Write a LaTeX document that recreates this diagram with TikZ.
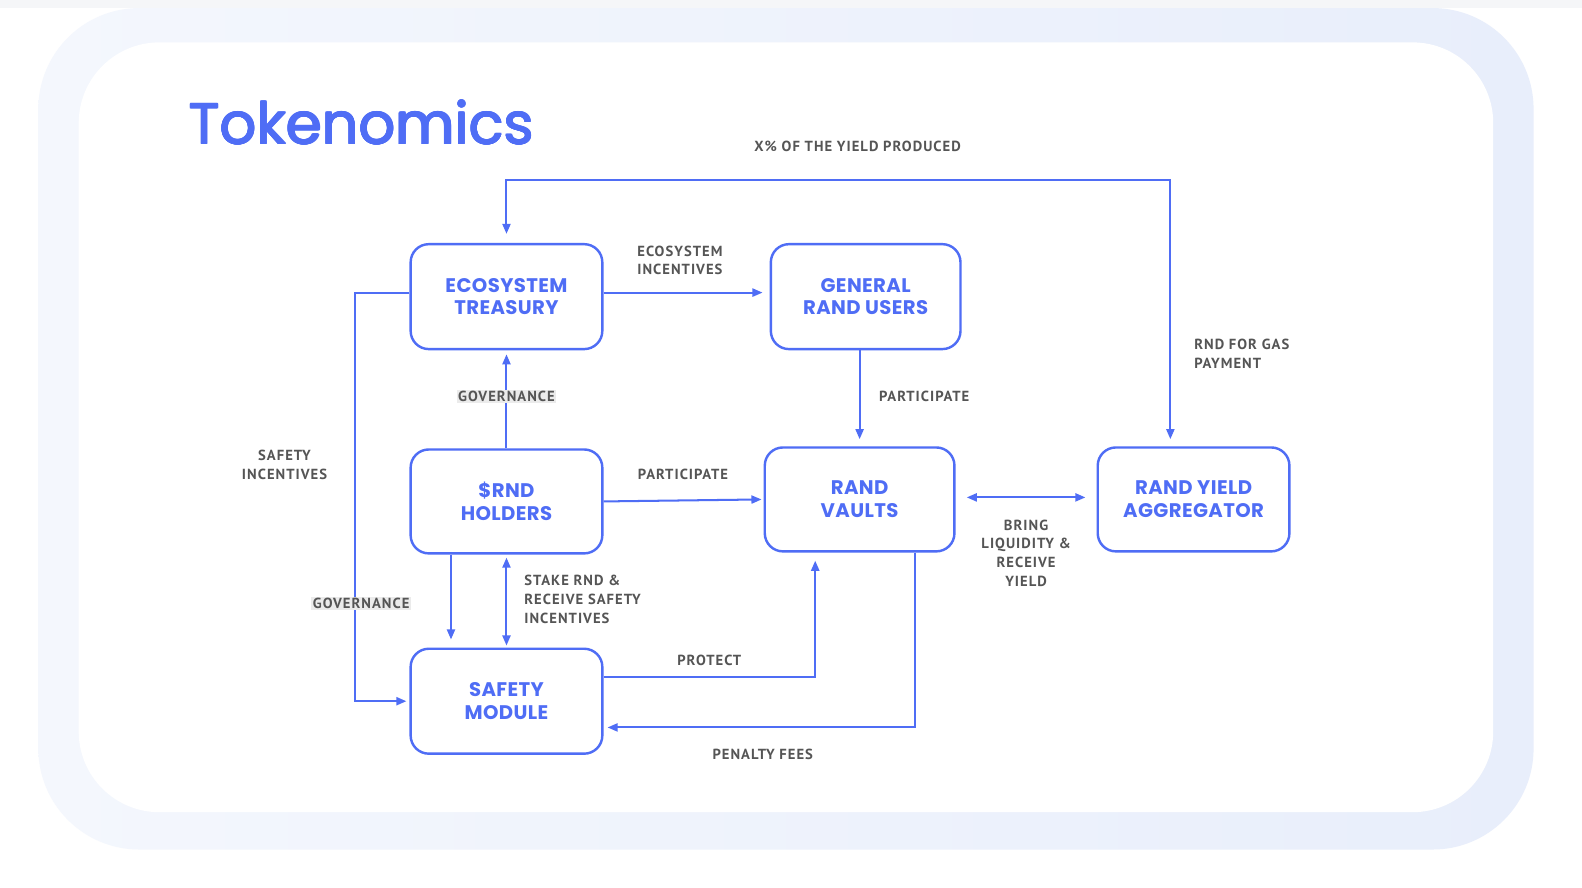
\documentclass[tikz,border=0pt]{standalone}
\usepackage{fontspec}
\setmainfont{PT Sans}
\newfontfamily\titlefont{Poppins}
\newfontfamily\boxfont{Poppins}[LetterSpace=2]
\newfontfamily\lblfont{PT Sans}[LetterSpace=7]
\usetikzlibrary{arrows.meta,calc}
\definecolor{rblue}{HTML}{4F6DF5}
\definecolor{lgray}{HTML}{555555}
\definecolor{bandL}{HTML}{F4F7FD}
\definecolor{bandR}{HTML}{E8EEFB}
\definecolor{topgray}{HTML}{F5F6F8}
\definecolor{govbg}{HTML}{EBEBEB}
\tikzset{
 box/.style={draw=rblue, line width=2.4pt, rounded corners=18pt, minimum width=190pt, minimum height=104pt, align=center, text=rblue, font=\boxfont\bfseries\fontsize{19.5}{22.5}\selectfont, inner sep=0pt},
 lbl/.style={text=lgray, font=\lblfont\bfseries\fontsize{14.5}{18.5}\selectfont, inner sep=1.5pt},
 glbl/.style={lbl, fill=govbg},
 ttl/.style={anchor=base west, text=rblue, font=\titlefont\fontsize{57}{60}\selectfont, inner sep=0pt},
 conn/.style={draw=rblue, line width=2pt, -{Triangle[length=10pt,width=8pt]}},
 conn2/.style={draw=rblue, line width=2pt, {Triangle[length=10pt,width=8pt]}-{Triangle[length=10pt,width=8pt]}},
}
\begin{document}
\begin{tikzpicture}[x=1pt,y=-1pt]
\useasboundingbox (0,0) rectangle (1568,880);
\fill[white] (0,0) rectangle (1568,880);
\fill[topgray] (0,0) rectangle (1568,8);
\shade[left color=bandL, right color=bandR, rounded corners=100pt] (38,8) rectangle (1520,842);
\fill[white, rounded corners=80pt] (78,42) rectangle (1480,805);

\foreach \dx/\dy in {-0.7/0,0.7/0,0/-0.7,0/0.7,-0.5/-0.5,0.5/0.5,-0.5/0.5,0.5/-0.5}
  \node[ttl] at (187+\dx,143+\dy) {Tokenomics};
\node[ttl] (title) at (187,143) {Tokenomics};

\node[box] (ET) at (502,294) {ECOSYSTEM\\TREASURY};
\node[box, minimum width=188pt] (GRU) at (858,294) {GENERAL\\RAND USERS};
\node[box, minimum height=103pt] (HOLD) at (502,497) {\$RND\\HOLDERS};
\node[box, minimum width=188pt, minimum height=103pt] (RV) at (852,495) {RAND\\VAULTS};
\node[box, minimum height=103pt] (RYA) at (1183,495) {RAND YIELD\\AGGREGATOR};
\node[box] (SM) at (502,695) {SAFETY\\MODULE};

\coordinate (tl) at (502,178);
\coordinate (tr) at (1160,178);
\draw[conn2, shorten <=9pt, shorten >=7pt] (ET.north) -- (tl) -- (tr) -- (tr |- RYA.north);
\node[lbl] (lx) at (850,145) {X\% OF THE YIELD PRODUCED};
\node[lbl, anchor=west, align=left] (lgas) at (1182,351) {RND FOR GAS\\PAYMENT};

\draw[conn, shorten >=7pt] ([yshift=4pt]ET.east) -- ([yshift=4pt]GRU.west);
\node[lbl, anchor=west, align=left] (leco) at (630,258) {ECOSYSTEM\\INCENTIVES};

\draw[conn, shorten >=4pt] (HOLD.north) -- (ET.south);
\node[glbl] (lgov1) at (502,393) {GOVERNANCE};

\draw[conn, shorten >=3pt] ([yshift=4pt]ET.west) -- ++(-54,0) |- (SM.west);
\node[glbl] (lgov2) at (358,598) {GOVERNANCE};
\node[lbl, align=center] (lsafe) at (282,461) {SAFETY\\INCENTIVES};

\draw[conn, shorten >=7pt] (RV.north |- GRU.south) -- (RV.north);
\node[lbl] (lpart1) at (916,393) {PARTICIPATE};

\draw[conn, shorten >=2pt] (HOLD.east) -- (RV.west);
\node[lbl] (lpart2) at (677,470) {PARTICIPATE};

\draw[conn2, shorten <=11pt, shorten >=11pt] ([yshift=2pt]RV.east) -- ([yshift=2pt]RYA.west);
\node[lbl, align=center] (lbring) at (1017,548) {BRING\\LIQUIDITY \&\\RECEIVE\\YIELD};

\draw[conn, shorten >=8pt] ([xshift=-55pt]HOLD.south) -- ([xshift=-55pt]SM.north);
\draw[conn2, shorten <=3pt, shorten >=2pt] (HOLD.south) -- (SM.north);
\node[lbl, anchor=west, align=left] (lstake) at (518,594) {STAKE RND \&\\RECEIVE SAFETY\\INCENTIVES};

\draw[conn, shorten >=8pt] ([yshift=24pt]SM.east) -| ([xshift=-44pt]RV.south);
\node[lbl] (lprot) at (703,655) {PROTECT};

\draw[conn, shorten >=4pt] ([xshift=55pt]RV.south) |- ([yshift=-26pt]SM.east);
\node[lbl] (lpen) at (756,748) {PENALTY FEES};
\end{tikzpicture}
\end{document}
